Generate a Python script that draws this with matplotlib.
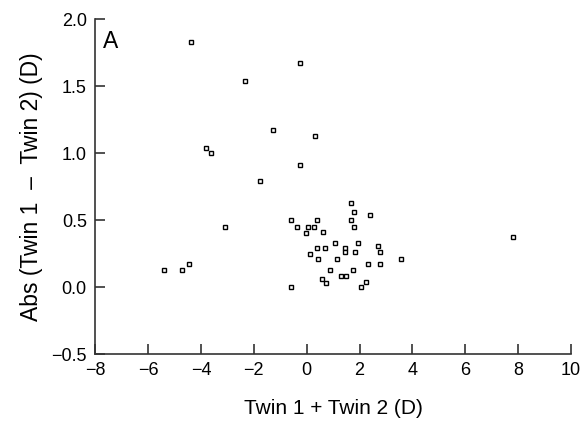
import numpy as np
import matplotlib.pyplot as plt

plt.rcParams['font.family'] = ['Liberation Sans', 'DejaVu Sans']

# twin pairs: sum and absolute difference of refraction (D)
twin_sum = [-4.38, -0.26, -2.34, -1.28, 0.30, -3.81, -3.60, -0.24, -1.77,
            -3.08, -5.40, -4.70, -4.45, -0.59,
            1.67, 1.79, 2.38, 1.67, 1.79, -0.59, -0.37, 0.05, 0.29, 0.40,
            -0.04, 0.60, 1.08, 1.94, 2.68, 2.79, 0.14, 0.40, 0.69, 1.45,
            1.45, 1.81, 0.42, 1.14, 2.33, 2.79, 0.89, 1.74, 1.31, 1.47,
            0.57, 0.72, 2.23, 2.04, 3.55, 7.79]
twin_absdiff = [1.83, 1.67, 1.54, 1.17, 1.13, 1.04, 1.00, 0.91, 0.79,
                0.45, 0.13, 0.13, 0.17, 0.00,
                0.63, 0.56, 0.54, 0.50, 0.45, 0.50, 0.45, 0.45, 0.45, 0.50,
                0.40, 0.41, 0.33, 0.33, 0.31, 0.26, 0.25, 0.29, 0.29, 0.29,
                0.26, 0.26, 0.21, 0.21, 0.17, 0.17, 0.13, 0.13, 0.08, 0.08,
                0.06, 0.03, 0.04, 0.00, 0.21, 0.37]

fig = plt.figure(figsize=(5.87, 4.25), dpi=100)
ax = fig.add_axes([0.162, 0.167, 0.811, 0.788])

ax.plot(twin_sum, twin_absdiff, 's', markersize=3.5, markerfacecolor='white',
        markeredgecolor='black', markeredgewidth=1.0)

ax.set_xlim(-8, 10)
ax.set_ylim(-0.5, 2.0)
ax.set_xticks(np.arange(-8, 11, 2))
ax.set_xticklabels(['\u22128', '\u22126', '\u22124', '\u22122', '0', '2', '4', '6', '8', '10'])
ax.set_yticks(np.arange(-0.5, 2.01, 0.5))
ax.set_yticklabels(['\u22120.5', '0.0', '0.5', '1.0', '1.5', '2.0'])

for side in ['top', 'right']:
    ax.spines[side].set_visible(False)
for side in ['left', 'bottom']:
    ax.spines[side].set_linewidth(1.2)
    ax.spines[side].set_color('#333333')

ax.tick_params(direction='in', length=7, width=1.2, color='#333333',
               labelsize=13, pad=6)

ax.set_xlabel('Twin 1 + Twin 2 (D)', fontsize=15, labelpad=14)
ax.set_ylabel('Abs (Twin 1  \u2013  Twin 2) (D)', fontsize=16.5, labelpad=6)

ax.text(0.017, 0.968, 'A', transform=ax.transAxes, fontsize=16.5,
        va='top', ha='left')

plt.savefig('out.png', dpi=100)
